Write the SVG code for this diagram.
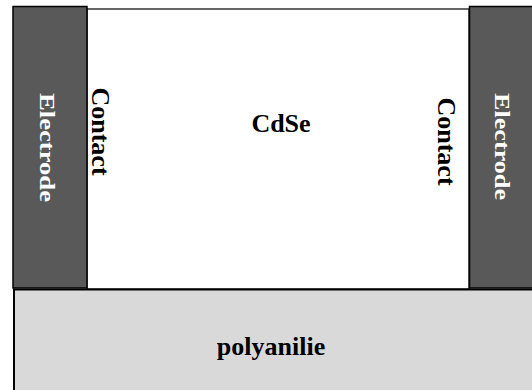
<svg xmlns="http://www.w3.org/2000/svg" width="532" height="390" viewBox="0 0 532 390">
<style>
.lbl{font-family:"Liberation Serif","Times New Roman",serif;font-weight:bold;font-size:26px;text-anchor:middle;fill:#000}
.el{font-family:"Liberation Serif","Times New Roman",serif;font-weight:bold;font-size:22px;text-anchor:middle;fill:#fff}
</style>
<rect width="532" height="390" fill="#fff"/>
<g id="cdse">
<rect x="87" y="9" width="382" height="280" fill="#fff" stroke="#000" stroke-width="1.2"/>
<text class="lbl" x="281" y="132">CdSe</text>
</g>
<g id="electrode-left">
<rect x="13" y="6.5" width="74" height="281.5" fill="#595959" stroke="#000" stroke-width="1.5"/>
<text class="el" transform="translate(40,147.5) rotate(90)" x="0" y="0" textLength="109" lengthAdjust="spacingAndGlyphs">Electrode</text>
</g>
<g id="electrode-right">
<rect x="469.5" y="6.5" width="80" height="281.5" fill="#595959" stroke="#000" stroke-width="1.5"/>
<text class="el" transform="translate(495,146.5) rotate(90)" x="0" y="0" textLength="107" lengthAdjust="spacingAndGlyphs">Electrode</text>
</g>
<g id="contact-left">
<text class="lbl" transform="translate(92,131.5) rotate(90)" x="0" y="0">Contact</text>
</g>
<g id="contact-right">
<text class="lbl" transform="translate(438,141.5) rotate(90)" x="0" y="0">Contact</text>
</g>
<g id="polyanilie">
<rect x="14" y="289.5" width="530" height="110" fill="#d9d9d9" stroke="#000" stroke-width="2"/>
<text class="lbl" x="271" y="355">polyanilie</text>
</g>
<g id="connectors"/>
</svg>
